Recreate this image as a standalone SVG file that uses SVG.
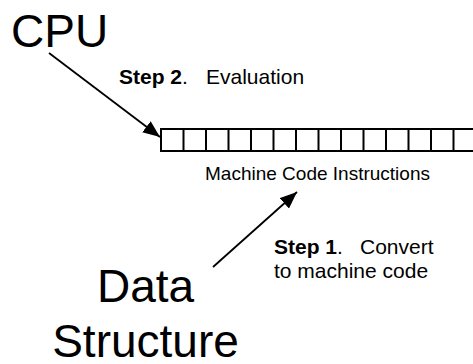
<svg xmlns="http://www.w3.org/2000/svg" width="473" height="364" viewBox="0 0 473 364">
<style>
  text { font-family: "Liberation Sans", Arial, sans-serif; fill: #000; }
  .big { font-size: 46px; }
  .lbl { font-size: 21px; }
  .small { font-size: 19px; }
  .b { font-weight: bold; }
  .mid { text-anchor: middle; }
  .cell { fill: #fff; stroke: #000; stroke-width: 2; }
  .conn { stroke: #000; stroke-width: 1.8; fill: none; marker-end: url(#ah); }
</style>
<defs>
  <marker id="ah" markerUnits="userSpaceOnUse" markerWidth="18" markerHeight="14" refX="17" refY="7" orient="auto">
    <path d="M0,0 L17,7 L0,14 z" fill="#000"/>
  </marker>
</defs>
<rect width="473" height="364" fill="#fff"/>
<g id="cpu">
  <text class="big" x="11" y="47">CPU</text>
</g>
<g id="step2-label">
  <text class="lbl" x="119" y="84"><tspan class="b">Step 2</tspan>.<tspan x="206">Evaluation</tspan></text>
</g>
<g id="machine-code">
  <rect class="cell" x="161" y="129" width="330" height="22"/>
  <path d="M183.5,129v22M206,129v22M228.5,129v22M251,129v22M273.5,129v22M296,129v22M318.5,129v22M341,129v22M363.5,129v22M386,129v22M408.5,129v22M431,129v22M453.5,129v22" stroke="#000" stroke-width="2"/>
  <text class="small" x="205" y="180">Machine Code Instructions</text>
</g>
<g id="step1-label">
  <text class="lbl" x="274" y="254"><tspan class="b">Step 1</tspan>.<tspan x="360">Convert</tspan></text>
  <text class="lbl" x="274" y="278">to machine code</text>
</g>
<g id="data-structure">
  <text class="big mid" x="145.5" y="302">Data</text>
  <text class="big mid" x="145.5" y="357">Structure</text>
</g>
<g id="connectors">
  <line class="conn" x1="49" y1="53" x2="160" y2="137"/>
  <line class="conn" x1="213" y1="267" x2="297" y2="192"/>
</g>
</svg>
